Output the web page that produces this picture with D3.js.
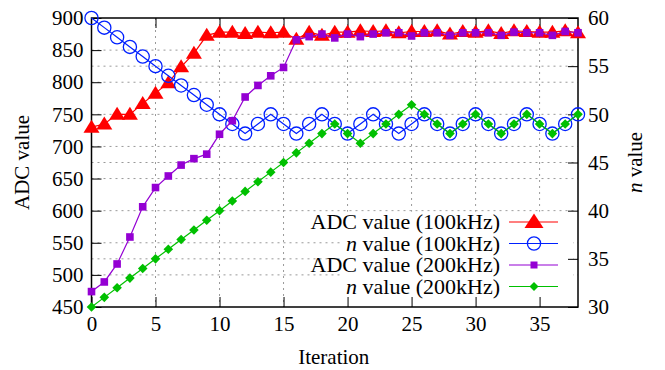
<!DOCTYPE html>
<html>
<head>
<meta charset="utf-8">
<script src="https://cdn.jsdelivr.net/npm/d3@7"></script>
<style>
  body { margin: 0; background: #fff; }
</style>
</head>
<body>
<svg id="chart"></svg>
<script>
// iterations 0..38
var iterations = d3.range(0, 39);

var adc100 = [730, 735, 750, 750, 767, 783, 799, 824, 845, 873,
  878, 878, 876, 878, 877, 878, 867, 878, 873, 878,
  878, 880, 879, 880, 877, 879, 879, 880, 875, 879,
  878, 880, 876, 880, 879, 878, 878, 880, 877];

var n100 = [60, 59, 58, 57, 56, 55, 54, 53, 52, 51,
  50, 49, 48, 49, 50, 49, 48, 49, 50, 49,
  48, 49, 50, 49, 48, 49, 50, 49, 48, 49,
  50, 49, 48, 49, 50, 49, 48, 49, 50];

var adc200 = [474, 489, 517, 559, 606, 636, 654, 671, 681, 688,
  719, 740, 777, 795, 810, 823, 866, 871, 875, 869,
  875, 871, 875, 877, 877, 872, 877, 877, 873, 877,
  877, 877, 873, 878, 877, 877, 873, 879, 877];

var n200 = [30, 31, 32, 33, 34, 35, 36, 37, 38, 39,
  40, 41, 42, 43, 44, 45, 46, 47, 48, 49,
  48, 47, 48, 49, 50, 51, 50, 49, 48, 49,
  50, 49, 48, 49, 50, 49, 48, 49, 50];

var xTicks = [0, 5, 10, 15, 20, 25, 30, 35];
var yTicks = [450, 500, 550, 600, 650, 700, 750, 800, 850, 900];
var y2Ticks = [30, 35, 40, 45, 50, 55, 60];

var legendLabels = ["ADC value (100kHz)", "value (100kHz)", "ADC value (200kHz)", "value (200kHz)"];

var serif = "'Liberation Serif'";
var fontSize = "21px";

var svgWidth = 665, svgHeight = 370;
var margin = { top: 18, right: 87, bottom: 63, left: 91.5 };
var width = svgWidth - margin.left - margin.right;
var height = svgHeight - margin.top - margin.bottom;

var svg = d3.select("#chart")
  .attr("width", svgWidth)
  .attr("height", svgHeight);

var chart = svg.append("g")
  .attr("transform", `translate(${margin.left}, ${margin.top})`);

var x = d3.scaleLinear().domain([0, 38]).range([0, width]);
var y = d3.scaleLinear().domain([450, 900]).range([height, 0]);
var y2 = d3.scaleLinear().domain([30, 60]).range([height, 0]);

// grid
var grid = chart.append("g")
  .attr("stroke", "#999")
  .attr("stroke-width", 1)
  .attr("stroke-dasharray", "2,4");

grid.selectAll(".gx")
  .data(xTicks.filter((d) => d > 0))
  .enter().append("line")
  .attr("x1", (d) => x(d)).attr("x2", (d) => x(d))
  .attr("y1", 0).attr("y2", height);

grid.selectAll(".gy")
  .data(yTicks.filter((d) => d > 450 && d < 900))
  .enter().append("line")
  .attr("x1", 0).attr("x2", width)
  .attr("y1", (d) => y(d)).attr("y2", (d) => y(d));

grid.selectAll(".gy2")
  .data(y2Ticks.filter((d) => d > 30 && d < 60 && d % 10 != 0))
  .enter().append("line")
  .attr("x1", 0).attr("x2", width)
  .attr("y1", (d) => y2(d)).attr("y2", (d) => y2(d));

// legend background covers the grid
var legendLeft = 249;
chart.append("rect")
  .attr("x", legendLeft)
  .attr("y", y(600) + 1)
  .attr("width", width - legendLeft - 5)
  .attr("height", height - y(600) - 1)
  .attr("fill", "#fff");

// axes
var tickLen = 10;
function styleAxis(g) {
  g.attr("font-family", serif).attr("font-size", fontSize);
  g.select(".domain").remove();
  g.selectAll("line").attr("stroke", "#000");
  g.selectAll("text")
    .style("font-family", serif)
    .style("font-size", fontSize)
    .attr("fill", "#000");
}

chart.append("g")
  .attr("transform", "translate(0," + height + ")")
  .call(d3.axisBottom(x).tickValues(xTicks).tickSize(-tickLen).tickPadding(9))
  .call(styleAxis);

chart.append("g")
  .call(d3.axisTop(x).tickValues(xTicks.filter((d) => d > 0)).tickSize(-tickLen).tickFormat(""))
  .call(styleAxis);

chart.append("g")
  .call(d3.axisLeft(y).tickValues(yTicks).tickSize(-tickLen).tickPadding(8))
  .call(styleAxis);

chart.append("g")
  .attr("transform", "translate(" + width + ",0)")
  .call(d3.axisRight(y2).tickValues(y2Ticks).tickSize(-tickLen).tickPadding(10))
  .call(styleAxis);

// frame
chart.append("rect")
  .attr("width", width).attr("height", height)
  .attr("fill", "none").attr("stroke", "#000").attr("stroke-width", 1.5);

// series
var series = [
  { values: adc100, scale: y, color: "#ff0000", marker: "tri" },
  { values: n100, scale: y2, color: "#0020ff", marker: "circle" },
  { values: adc200, scale: y, color: "#9400d3", marker: "square" },
  { values: n200, scale: y2, color: "#00c000", marker: "diamond" }
];

function drawMarker(g, s, big) {
  if (s.marker == "tri") {
    g.append("path").attr("d", big ? "M0,-8.5L9.5,6L-9.5,6Z" : "M0,-7.5L8,5.5L-8,5.5Z").attr("fill", s.color);
  } else if (s.marker == "circle") {
    g.append("circle").attr("r", 6.6).attr("fill", "none")
      .attr("stroke", s.color).attr("stroke-width", 1.3);
  } else if (s.marker == "square") {
    var h = big ? 3.5 : 3.8;
    g.append("rect").attr("x", -h).attr("y", -h).attr("width", 2 * h).attr("height", 2 * h)
      .attr("fill", s.color);
  } else {
    var r = big ? 4.5 : 4.8;
    g.append("path").attr("d", `M0,${-r}L${r},0L0,${r}L${-r},0Z`).attr("fill", s.color);
  }
}

series.forEach(function (s) {
  var line = d3.line()
    .x((d, i) => x(iterations[i]))
    .y((d) => s.scale(d));
  chart.append("path")
    .datum(s.values)
    .attr("d", line)
    .attr("fill", "none")
    .attr("stroke", s.color)
    .attr("stroke-width", 1.2);

  chart.selectAll()
    .data(s.values)
    .enter()
    .append("g")
    .attr("transform", (d, i) => `translate(${x(iterations[i])},${s.scale(d)})`)
    .each(function () { drawMarker(d3.select(this), s, false); });
});

// legend
var legend = svg.append("g");
var rowY = [222, 243.5, 265, 286.5];
series.forEach(function (s, i) {
  var t = legend.append("text")
    .attr("x", 500)
    .attr("y", rowY[i] + 7)
    .attr("text-anchor", "end")
    .style("font-family", serif)
    .style("font-size", "22px");
  if (i % 2 == 1) {
    t.append("tspan").style("font-style", "italic").text("n");
    t.append("tspan").text(" " + legendLabels[i]);
  } else {
    t.text(legendLabels[i]);
  }
  legend.append("line")
    .attr("x1", 509).attr("x2", 558)
    .attr("y1", rowY[i]).attr("y2", rowY[i])
    .attr("stroke", s.color).attr("stroke-width", 1.2);
  var m = legend.append("g").attr("transform", `translate(534,${rowY[i]})`);
  drawMarker(m, s, true);
});

// axis labels
svg.append("text")
  .attr("x", margin.left + width / 2 - 1)
  .attr("y", 364)
  .attr("text-anchor", "middle")
  .style("font-family", serif)
  .style("font-size", fontSize)
  .text("Iteration");

svg.append("text")
  .attr("transform", "translate(29," + (margin.top + height / 2) + ") rotate(-90)")
  .attr("text-anchor", "middle")
  .style("font-family", serif)
  .style("font-size", fontSize)
  .text("ADC value");

var r2 = svg.append("text")
  .attr("transform", "translate(642," + (margin.top + height / 2) + ") rotate(-90)")
  .attr("text-anchor", "middle")
  .style("font-family", serif)
  .style("font-size", fontSize);
r2.append("tspan").style("font-style", "italic").text("n");
r2.append("tspan").text(" value");
</script>
</body>
</html>
